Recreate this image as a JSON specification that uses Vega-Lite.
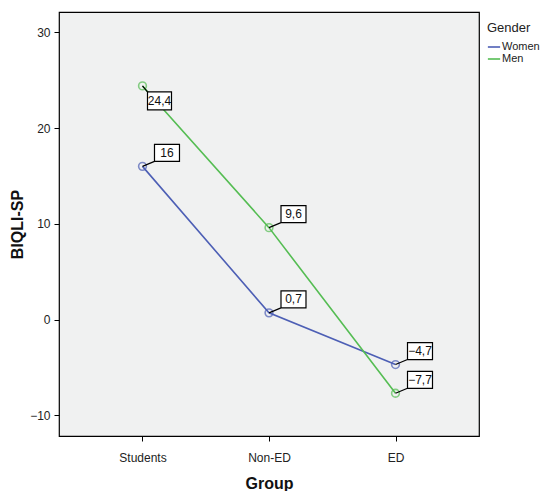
{
  "$schema": "https://vega.github.io/schema/vega-lite/v6.json",
  "autosize": "none",
  "width": 420,
  "height": 424,
  "padding": {"left": 59, "top": 12, "right": 69, "bottom": 55},
  "background": "white",
  "config": {
    "locale": {"number": {"decimal": ",", "thousands": ".", "grouping": [3], "currency": ["", ""]}},
    "font": "Liberation Sans",
    "view": {"fill": "#f0f1f1", "stroke": "#000000", "strokeWidth": 1.2},
    "axis": {"grid": false, "domain": false, "tickColor": "#000000", "tickSize": 5, "labelColor": "#222222", "labelFontSize": 12, "titleFontSize": 16, "titleFontWeight": "bold", "titleColor": "#111111", "labelFont": "Liberation Sans", "titleFont": "Liberation Sans"}
  },
  "data": {
    "values": [
      {"group": "Students", "gender": "Women", "value": 16.0},
      {"group": "Non-ED", "gender": "Women", "value": 0.7},
      {"group": "ED", "gender": "Women", "value": -4.7},
      {"group": "Students", "gender": "Men", "value": 24.4},
      {"group": "Non-ED", "gender": "Men", "value": 9.6},
      {"group": "ED", "gender": "Men", "value": -7.7}
    ]
  },
  "encoding": {
    "x": {
      "field": "group", "type": "nominal", "sort": ["Students", "Non-ED", "ED"],
      "scale": {"type": "point", "padding": 0.66},
      "axis": {"title": "Group", "labelAngle": 0, "labelPadding": 11, "titlePadding": 12}
    },
    "y": {
      "field": "value", "type": "quantitative",
      "scale": {"domain": [-12.16, 32.12], "nice": false, "zero": false},
      "axis": {"title": "BIQLI-SP", "values": [-10, 0, 10, 20, 30], "labelPadding": 4, "titlePadding": 4}
    }
  },
  "layer": [
    {
      "mark": {"type": "line", "strokeWidth": 1.6},
      "encoding": {
        "color": {
          "field": "gender", "type": "nominal",
          "scale": {"domain": ["Women", "Men"], "range": ["#4d5fb5", "#55bd53"]},
          "legend": {"title": "Gender", "orient": "none", "legendX": 428, "legendY": 10, "titleFontSize": 13, "titleFontWeight": "normal", "titleColor": "#222222", "labelFontSize": 11, "labelColor": "#222222", "symbolType": "stroke", "symbolSize": 150, "symbolStrokeWidth": 1.6, "rowPadding": 0, "labelOffset": 1, "titlePadding": 5}
        }
      }
    },
    {
      "mark": {"type": "point", "shape": "circle", "filled": false, "size": 60, "strokeWidth": 1.6},
      "encoding": {
        "color": {"field": "gender", "type": "nominal", "legend": null}
      }
    },
    {
      "transform": [{"filter": "!(datum.group === 'Students' && datum.gender === 'Men')"}],
      "mark": {"type": "point", "shape": "M0,0 L0.4,-0.1667 M0.4,-0.1667 L1.233,-0.1667 L1.233,-0.7333 L0.4,-0.7333 Z", "size": 3600, "filled": true, "fill": "white", "stroke": "black", "strokeWidth": 1.2, "opacity": 1}
    },
    {
      "transform": [{"filter": "datum.group === 'Students' && datum.gender === 'Men'"}],
      "mark": {"type": "point", "shape": "M0,0 L0.1667,0.2 M0.1667,0.2 L0.9667,0.2 L0.9667,0.8 L0.1667,0.8 Z", "size": 3600, "filled": true, "fill": "white", "stroke": "black", "strokeWidth": 1.2, "opacity": 1}
    },
    {
      "transform": [{"filter": "!(datum.group === 'Students' && datum.gender === 'Men')"}],
      "mark": {"type": "text", "dx": 24.5, "dy": -13.5, "fontSize": 12, "color": "#111111", "align": "center", "baseline": "middle"},
      "encoding": {"text": {"field": "value", "type": "quantitative", "format": ".1~f"}}
    },
    {
      "transform": [{"filter": "datum.group === 'Students' && datum.gender === 'Men'"}],
      "mark": {"type": "text", "dx": 17, "dy": 15, "fontSize": 12, "color": "#111111", "align": "center", "baseline": "middle"},
      "encoding": {"text": {"field": "value", "type": "quantitative", "format": ".1~f"}}
    }
  ]
}
